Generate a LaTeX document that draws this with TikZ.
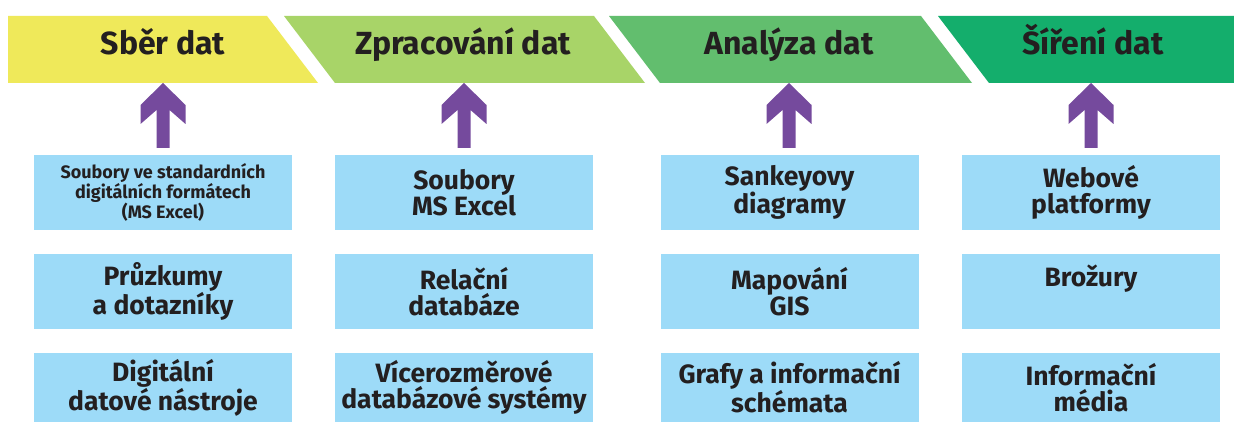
\documentclass[tikz,border=0pt]{standalone}
\usepackage{fontspec}
\setmainfont{Fira Sans}
\usetikzlibrary{calc}
\definecolor{cyel}{HTML}{EFE95A}
\definecolor{cgA}{HTML}{A8D468}
\definecolor{cgB}{HTML}{62BE6E}
\definecolor{cgC}{HTML}{14AE6C}
\definecolor{cbox}{HTML}{9DDBF8}
\definecolor{cpur}{HTML}{754A9D}
\definecolor{ctxt}{HTML}{231F20}
\tikzset{
  headtext/.style={text=ctxt,font=\bfseries\fontsize{32}{34}\selectfont,inner sep=0pt,anchor=base},
  toolbox/.style={fill=cbox,minimum width=258pt,minimum height=75pt,inner sep=0pt,text=ctxt,align=center,font=\bfseries\fontsize{26.5}{26.5}\selectfont},
  smallbox/.style={toolbox,font=\bfseries\fontsize{18}{18.5}\selectfont},
  uparrow/.style={fill=cpur}
}
\newcommand{\uparr}[1]{%
  \fill[uparrow,shift={(#1)}] (0,0) -- (22.5,22) -- (22.5,41) -- (6.5,27) -- (6.5,65) -- (-6.5,65) -- (-6.5,27) -- (-22.5,41) -- (-22.5,22) -- cycle;}
\begin{document}
\begin{tikzpicture}[x=1pt,y=-1pt]
\useasboundingbox (0,0) rectangle (1234,422);
\fill[white] (0,0) rectangle (1234,422);
% header chevrons
\fill[cyel] (8,16) -- (267,16) -- (318,83) -- (8,83) -- cycle;
\fill[cgA] (284,16) -- (594,16) -- (645,83) -- (335,83) -- cycle;
\fill[cgB] (609,16) -- (921,16) -- (972,83) -- (660,83) -- cycle;
\fill[cgC] (938,16) -- (1234,16) -- (1234,83) -- (989,83) -- cycle;
\node[headtext] (h1) at (163,55) {Sběr dat};
\node[headtext] (h2) at (463,55) {Zpracování dat};
\node[headtext] (h3) at (789,55) {Analýza dat};
\node[headtext] (h4) at (1093,55) {Šíření dat};
\coordinate (t1) at (163,83);
\coordinate (t2) at (464,83);
\coordinate (t3) at (789,83);
\coordinate (t4) at (1091,83);
% boxes row 1
\node[smallbox] (b11) at (163,192.5) {Soubory ve standardních\\digitálních formátech\\(MS Excel)};
\node[toolbox] (b21) at (464,192.5) {Soubory\\MS Excel};
\node[toolbox] (b31) at (789.5,192.5) {Sankeyovy\\diagramy};
\node[toolbox] (b41) at (1091,192.5) {Webové\\platformy};
% row 2
\node[toolbox] (b12) at (163,291.5) {Průzkumy\\a dotazníky};
\node[toolbox] (b22) at (464,291.5) {Relační\\databáze};
\node[toolbox] (b32) at (789.5,291.5) {Mapování\\GIS};
\node[toolbox] (b42) at (1091,291.5) {Brožury\\\phantom{Bg}};
% row 3
\node[toolbox,minimum height=70pt] (b13) at (163,387.5) {Digitální\\datové nástroje};
\node[toolbox,minimum height=70pt] (b23) at (464,387.5) {Vícerozměrové\\databázové systémy};
\node[toolbox,minimum height=70pt] (b33) at (789.5,387.5) {Grafy a informační\\schémata};
\node[toolbox,minimum height=70pt] (b43) at (1091,387.5) {Informační\\média};
% arrows from the top boxes up to the headers
\uparr{t1}
\uparr{t2}
\uparr{t3}
\uparr{t4}
\end{tikzpicture}
\end{document}
